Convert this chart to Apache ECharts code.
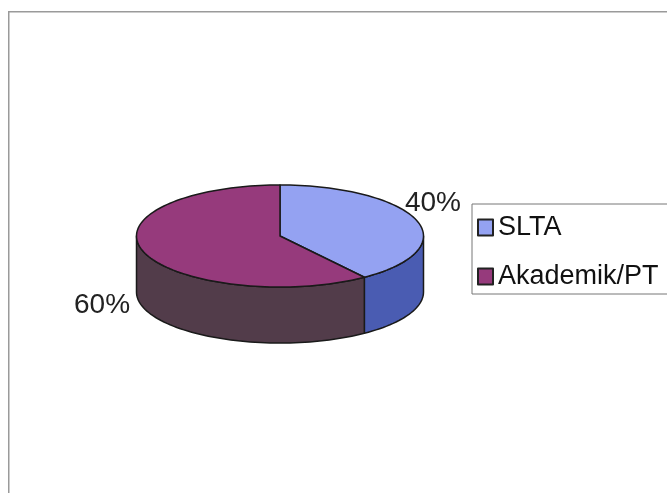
<!DOCTYPE html>
<html><head><meta charset="utf-8">
<script src="https://cdn.jsdelivr.net/npm/echarts@6/dist/echarts.min.js"></script>
<style>html,body{margin:0;padding:0;background:#fff}#c{width:667px;height:493px}</style>
</head><body><div id="c"></div>
<script>
// ---- data ----
const categories = ['SLTA', 'Akademik/PT'];
const values = [40, 60];
const labelTexts = ['40%', '60%'];

// ---- styles ----
const topColors = ['#94A2F2', '#963A7C'];
const sideColors = ['#4A5CB2', '#523C4A'];
const FONT = '"Liberation Sans", Arial, sans-serif';

// ---- layout (pseudo-3D ellipse) ----
const CX = 280, CY = 236, RX = 143.5, RY = 51, DEPTH = 56;
const labelNudge = [[-11.5, -17], [-13.5, -2]];

const total = values.reduce((a, b) => a + b, 0);
function sliceAngles(i) {
  let cum = 0;
  for (let k = 0; k < i; k++) cum += values[k];
  return [cum / total * 360, (cum + values[i]) / total * 360];
}
function arcPts(a0, a1, yOff) {
  const pts = [];
  const n = Math.max(2, Math.ceil(Math.abs(a1 - a0) / 2));
  for (let k = 0; k <= n; k++) {
    const t = (a0 + (a1 - a0) * k / n) * Math.PI / 180;
    pts.push([CX + RX * Math.sin(t), CY - RY * Math.cos(t) + yOff]);
  }
  return pts;
}

const data = values.map((v, i) => ({ value: [v], name: categories[i] }));

function renderSide(params, api) {
  const i = params.dataIndex;
  const [a0, a1] = sliceAngles(i);
  const s = Math.max(a0, 90), e = Math.min(a1, 270);
  if (s >= e) return { type: 'group', children: [] };
  const pts = arcPts(s, e, 0).concat(arcPts(e, s, DEPTH));
  return {
    type: 'polygon',
    shape: { points: pts },
    style: { fill: sideColors[i], stroke: '#1a1a1a', lineWidth: 1.5, lineJoin: 'round' }
  };
}

function renderTop(params, api) {
  const i = params.dataIndex;
  const [a0, a1] = sliceAngles(i);
  const pts = [[CX, CY]].concat(arcPts(a0, a1, 0));
  const mid = (a0 + a1) / 2 * Math.PI / 180;
  const front = Math.cos(mid) < 0;
  const ax = CX + RX * Math.sin(mid) + labelNudge[i][0];
  const ay = CY - RY * Math.cos(mid) + (front ? DEPTH : 0) + labelNudge[i][1];
  const right = Math.sin(mid) >= 0;
  return {
    type: 'group',
    children: [
      {
        type: 'polygon',
        shape: { points: pts },
        style: { fill: topColors[i], stroke: '#1a1a1a', lineWidth: 1.5, lineJoin: 'round' }
      },
      {
        type: 'text',
        x: ax, y: ay,
        style: {
          text: labelTexts[i],
          fontSize: 28, fontFamily: FONT, fill: '#222',
          textAlign: right ? 'left' : 'right', align: right ? 'left' : 'right',
          textVerticalAlign: 'middle', verticalAlign: 'middle'
        }
      }
    ]
  };
}

const chart = echarts.init(document.getElementById('c'), null, { renderer: 'canvas' });
chart.setOption({
  animation: false,
  backgroundColor: '#ffffff',
  graphic: [{
    type: 'rect', left: 8, top: 11, z: -10,
    shape: { x: 0, y: 0, width: 720, height: 560 },
    style: { fill: '#fff', stroke: '#9a9a9a', lineWidth: 1.5 }
  }],
  legend: {
    data: categories,
    orient: 'vertical',
    left: 472, top: 204,
    padding: [10, 12, 4, 5],
    itemWidth: 15, itemHeight: 16, itemGap: 22,
    icon: 'rect',
    borderColor: '#777', borderWidth: 1,
    textStyle: { fontSize: 27, fontFamily: FONT, color: '#111', lineHeight: 27 },
    selectedMode: false
  },
  series: [
    {
      type: 'pie', name: 'legend-proxy', radius: [0, 0], center: [CX, CY], silent: true,
      label: { show: false }, labelLine: { show: false },
      itemStyle: { borderColor: '#222', borderWidth: 1 },
      data: values.map((v, i) => ({ value: v, name: categories[i], itemStyle: { color: topColors[i] } }))
    },
    { type: 'custom', coordinateSystem: 'none', renderItem: renderSide, data: data, z: 2, silent: true },
    { type: 'custom', coordinateSystem: 'none', renderItem: renderTop, data: data, z: 3, silent: true }
  ]
});
</script>
</body></html>
